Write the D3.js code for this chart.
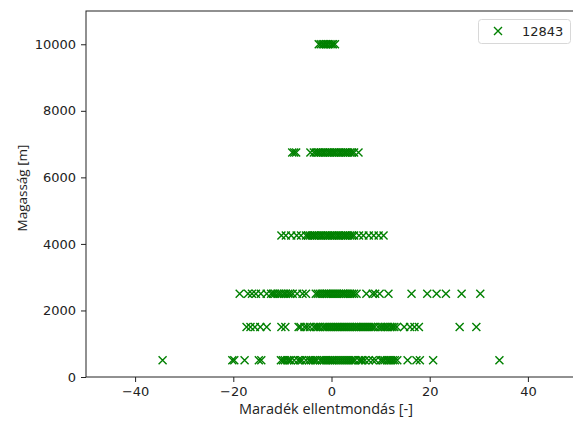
<!DOCTYPE html>
<html>
<head>
<meta charset="utf-8">
<script src="https://cdn.jsdelivr.net/npm/d3@7"></script>
<style>
  html, body { margin: 0; padding: 0; background: #fff; }
  svg { display: block; }
</style>
</head>
<body>
<svg id="chart" width="573" height="421"></svg>
<script>
// ---- data ----
const seriesName = "12843";
const levels = [10000, 6750, 4250, 2500, 1500, 500];
const resid10000 = [-2.6,-2.2,-1.8,-1.5,-1.1,-0.8,-0.4,0.0,0.3,0.7];
const resid6750 = [-8.0,-7.6,-7.2,-4.3,-3.6,-3.2,-2.8,-2.5,-2.1,-1.7,-1.4,-1.0,-0.6,-0.3,0.1,0.5,0.8,1.2,1.6,1.9,2.3,2.7,3.0,3.4,3.8,4.2,4.6,5.5];
const resid4250 = [-10.2,-9.3,-8.2,-7.1,-6.2,-5.2,-4.8,-4.4,-4.0,-3.6,-3.3,-2.9,-2.5,-2.1,-1.8,-1.4,-1.0,-0.7,-0.3,0.1,0.4,0.8,1.2,1.5,1.9,2.3,2.7,3.0,3.4,3.8,4.2,4.6,5.6,6.5,7.6,8.6,9.6,10.6];
const resid2500 = [-18.7,-17.0,-16.2,-15.4,-14.4,-13.2,-12.3,-11.9,-11.5,-11.0,-10.6,-10.2,-9.7,-9.3,-8.8,-8.4,-7.9,-7.0,-5.9,-5.2,-3.2,-2.8,-2.4,-2.0,-1.6,-1.2,-0.9,-0.5,-0.1,0.3,0.7,1.1,1.5,1.9,2.3,2.6,3.0,3.4,3.8,4.2,4.6,5.1,7.1,8.4,8.9,9.8,11.6,16.3,19.5,21.4,23.3,26.5,30.3];
const resid1500 = [-17.3,-16.5,-15.6,-14.5,-13.2,-10.2,-9.4,-6.7,-6.3,-5.5,-5.0,-4.4,-3.6,-3.2,-2.8,-2.4,-1.8,-1.4,-1.0,-0.6,-0.2,0.2,0.6,1.0,1.3,1.7,2.1,2.5,2.9,3.3,3.7,4.1,4.5,4.9,5.2,5.6,6.0,6.4,6.8,7.2,7.6,8.0,8.4,8.8,9.5,10.0,10.4,10.8,11.2,11.5,12.0,12.4,12.8,13.3,14.8,16.0,16.9,17.8,26.1,29.5];
const resid500 = [-34.4,-20.2,-19.8,-17.7,-14.8,-14.3,-10.3,-9.9,-9.5,-9.0,-8.6,-8.3,-7.6,-6.8,-6.4,-6.0,-5.2,-4.6,-4.2,-3.8,-3.4,-3.0,-2.3,-1.9,-1.5,-1.1,-0.7,-0.3,0.1,0.4,0.8,1.2,1.6,2.0,2.4,2.8,3.2,3.6,4.0,4.4,4.8,5.6,6.0,6.3,6.8,7.6,8.4,9.0,10.0,10.4,10.8,11.3,11.7,12.1,12.5,12.9,13.4,15.5,17.3,18.0,20.7,34.2];
const residByLevel = [resid10000, resid6750, resid4250, resid2500, resid1500, resid500];
const xTicks = [-40, -20, 0, 20, 40];
const yTicks = [0, 2000, 4000, 6000, 8000, 10000];
const xLabel = "Maradék ellentmondás [-]";
const yLabel = "Magasság [m]";

const points = [];
levels.forEach((lv, i) => residByLevel[i].forEach(r => points.push({x: r, y: lv})));

// ---- layout ----
const svg = d3.select("#chart");
const L = 86, R = 577, T = 11, B = 377;
const x = d3.scaleLinear().domain([-50, 50]).range([L, R]);
const y = d3.scaleLinear().domain([0, 11000]).range([B, T]);
const green = "#008000";
const tickFont = "DejaVu Sans, sans-serif";

// points
const ms = 4;
const markerPath = `M${-ms},${-ms}L${ms},${ms}M${-ms},${ms}L${ms},${-ms}`;
svg.append("g").selectAll("path").data(points).join("path")
  .attr("transform", d => `translate(${x(d.x)},${y(d.y)})`)
  .attr("d", markerPath)
  .attr("stroke", green).attr("stroke-width", 1.4).attr("fill", "none");

// axes
const xAxis = svg.append("g").attr("transform", `translate(0,${B})`)
  .call(d3.axisBottom(x).tickValues(xTicks).tickSize(5).tickPadding(5)
    .tickFormat(d => d3.format("d")(d).replace("-", "\u2212")));
const yAxis = svg.append("g").attr("transform", `translate(${L},0)`)
  .call(d3.axisLeft(y).tickValues(yTicks).tickSize(5).tickPadding(5).tickFormat(d3.format("d")));
[xAxis, yAxis].forEach(g => {
  g.select(".domain").remove();
  g.selectAll("line").attr("stroke", "#222").attr("stroke-width", 1);
  g.selectAll("text").attr("font-family", tickFont).attr("font-size", 13).attr("fill", "#222");
});

// frame
svg.append("rect").attr("x", L).attr("y", T).attr("width", R - L).attr("height", B - T)
  .attr("fill", "none").attr("stroke", "#222").attr("stroke-width", 1);

// axis labels
svg.append("text").attr("x", 326).attr("y", 414).attr("text-anchor", "middle")
  .attr("font-family", "Open Sans, sans-serif").attr("font-size", 14.5).attr("fill", "#222").text(xLabel);
svg.append("text").attr("transform", "translate(27,188) rotate(-90)").attr("text-anchor", "middle")
  .attr("font-family", "Open Sans, sans-serif").attr("font-size", 13.5).attr("fill", "#222").text(yLabel);

// legend
const lg = svg.append("g");
lg.append("rect").attr("x", 478.5).attr("y", 19.5).attr("width", 92).attr("height", 24).attr("rx", 3)
  .attr("fill", "#fff").attr("stroke", "#d8d8d8").attr("stroke-width", 1);
lg.append("path").attr("transform", "translate(498,31)").attr("d", markerPath)
  .attr("stroke", green).attr("stroke-width", 1.4).attr("fill", "none");
lg.append("text").attr("x", 522).attr("y", 36).attr("font-family", tickFont).attr("font-size", 13)
  .attr("fill", "#222").text(seriesName);
</script>
</body>
</html>
